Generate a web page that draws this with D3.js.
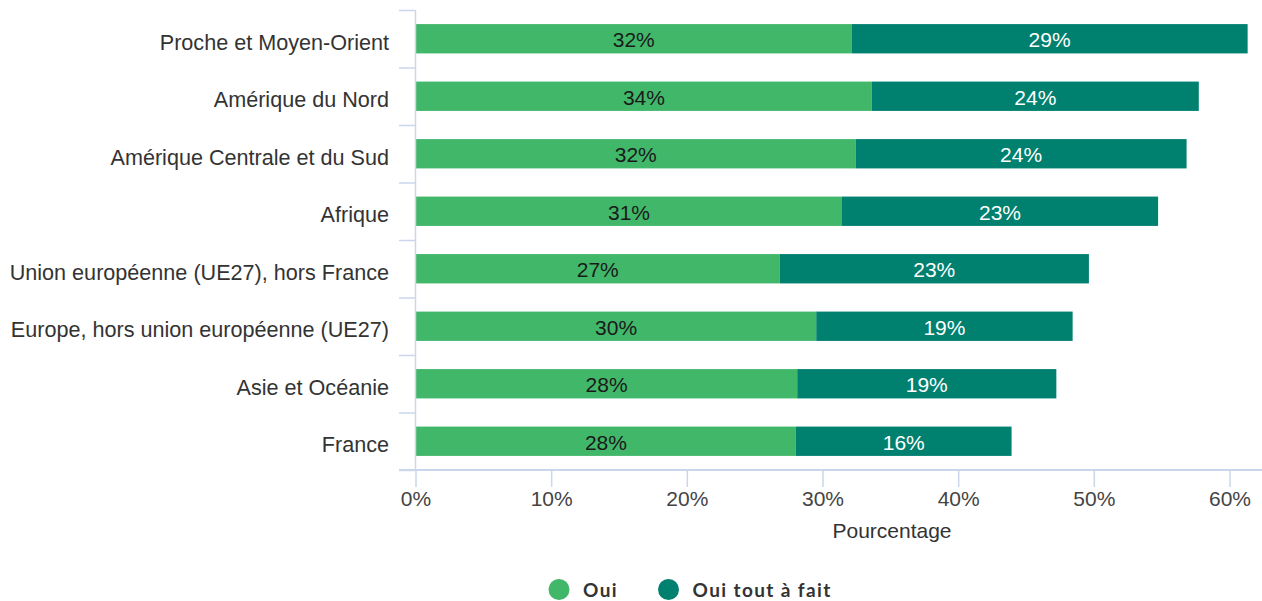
<!DOCTYPE html>
<html><head><meta charset="utf-8">
<script src="https://cdn.jsdelivr.net/npm/d3@7"></script>
<style>body{margin:0;background:#fff;}svg{display:block;}</style>
</head><body>
<svg id="c" width="1262" height="601"></svg>
<script>
const categories = ["Proche et Moyen-Orient","Amérique du Nord","Amérique Centrale et du Sud","Afrique","Union européenne (UE27), hors France","Europe, hors union européenne (UE27)","Asie et Océanie","France"];
const oui = [32.1, 33.6, 32.4, 31.4, 26.8, 29.5, 28.1, 28.0];
const ouiToutAFait = [29.2, 24.1, 24.4, 23.3, 22.8, 18.9, 19.1, 15.9];
const seriesNames = ["Oui","Oui tout à fait"];
const seriesColors = ["#41b76a","#00806f"];
const xTicks = [0,10,20,30,40,50,60];

const FONT = "Liberation Sans, Arial, sans-serif";
const svg = d3.select("#c");
const x = d3.scaleLinear().domain([0,60]).range([416,1230]);
const y = d3.scaleBand().domain(categories).range([10,470]).paddingInner(0.49).paddingOuter(0.245);
const band = d3.scaleBand().domain(categories).range([10,470]);
const axisColor = "#ccd6eb";

// bars
const rows = categories.map((c,i)=>({c, a:oui[i], b:ouiToutAFait[i]}));
const g = svg.append("g");
rows.forEach(r=>{
  g.append("rect").attr("x",x(0)).attr("y",y(r.c)).attr("width",x(r.a)-x(0)).attr("height",y.bandwidth()).attr("fill",seriesColors[0]);
  g.append("rect").attr("x",x(r.a)).attr("y",y(r.c)).attr("width",x(r.a+r.b)-x(r.a)).attr("height",y.bandwidth()).attr("fill",seriesColors[1]);
  g.append("text").attr("x",(x(0)+x(r.a))/2).attr("y",y(r.c)+y.bandwidth()/2+8.5)
    .attr("text-anchor","middle").attr("font-family",FONT).attr("font-size",21)
    .attr("fill","#1a1a1a").text(Math.round(r.a)+"%");
  g.append("text").attr("x",(x(r.a)+x(r.a+r.b))/2).attr("y",y(r.c)+y.bandwidth()/2+8.5)
    .attr("text-anchor","middle").attr("font-family",FONT).attr("font-size",21)
    .attr("fill","#fff").text(Math.round(r.b)+"%");
});

// left category axis
const la = svg.append("g");
la.append("line").attr("x1",415.5).attr("x2",415.5).attr("y1",10).attr("y2",470).attr("stroke",axisColor).attr("stroke-width",1.5);
const bounds = categories.map(c=>band(c)).concat([470]);
bounds.forEach(b=>{
  la.append("line").attr("x1",399).attr("x2",415).attr("y1",b+0.5).attr("y2",b+0.5).attr("stroke",axisColor).attr("stroke-width",1.5);
});
categories.forEach(c=>{
  la.append("text").attr("x",389).attr("y",band(c)+band.bandwidth()/2+11)
    .attr("text-anchor","end").attr("font-family",FONT).attr("font-size",21.6)
    .attr("fill","#333").text(c);
});

// bottom axis
const ba = svg.append("g");
ba.append("line").attr("x1",399).attr("x2",1262).attr("y1",470).attr("y2",470).attr("stroke",axisColor).attr("stroke-width",2);
xTicks.forEach(t=>{
  ba.append("line").attr("x1",x(t)).attr("x2",x(t)).attr("y1",470).attr("y2",487).attr("stroke",axisColor).attr("stroke-width",1.5);
  ba.append("text").attr("x",x(t)).attr("y",506).attr("text-anchor","middle")
    .attr("font-family",FONT).attr("font-size",21).attr("fill","#444").text(t+"%");
});
ba.append("text").attr("x",892).attr("y",538).attr("text-anchor","middle")
  .attr("font-family",FONT).attr("font-size",21).attr("fill","#333").text("Pourcentage");

// legend
const lg = svg.append("g");
const legendX = [559, 668.5];
seriesNames.forEach((n,i)=>{
  lg.append("circle").attr("cx",legendX[i]).attr("cy",589.5).attr("r",10.5).attr("fill",seriesColors[i]);
  lg.append("text").attr("x",legendX[i]+24).attr("y",597)
    .attr("font-family","Lato, sans-serif").attr("font-weight","bold").attr("font-size",19)
    .attr("letter-spacing",1.4).attr("fill","#333").text(n);
});
</script>
</body></html>
